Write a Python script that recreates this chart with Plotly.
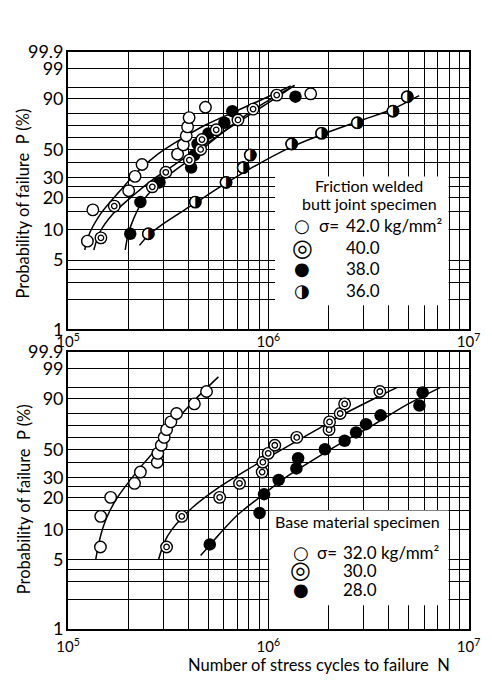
import numpy as np
import plotly.graph_objects as go

# ---------------- data ----------------
# probability-paper (Weibull) axis
p_label_vals = [1, 5, 10, 20, 30, 50, 90, 99, 99.9]
p_label_text = ["1", "5", "10", "20", "30", "50", "90", "99", "99.9"]
p_grid_only = [2, 3, 4, 15, 25, 40, 60, 70, 80, 95]
# cycles axis
n_label_vals = [1e5, 1e6, 1e7]
n_label_text = ["10<sup>5</sup>", "10<sup>6</sup>", "10<sup>7</sup>"]
n_grid_mult = [2, 3, 4, 5, 6, 7, 8, 9]

# Friction welded butt joint specimen  (N cycles, P %)
fw42_N = [1.248e5, 1.329e5, 2.007e5, 2.158e5, 2.34e5, 3.52e5, 3.76e5, 3.89e5, 3.95e5, 4.02e5, 4.85e5, 1.627e6]
fw42_P = [7.7, 15.4, 23.1, 30.8, 38.5, 46.2, 53.8, 61.5, 69.2, 76.9, 84.6, 92.3]
fw40_N = [1.458e5, 1.70e5, 2.633e5, 3.075e5, 4.03e5, 4.59e5, 4.66e5, 5.49e5, 7.05e5, 8.39e5, 1.101e6]
fw40_P = [8.3, 16.7, 25.0, 33.3, 41.7, 50.0, 58.3, 66.7, 75.0, 83.3, 91.7]
fw38_N = [2.043e5, 2.296e5, 2.858e5, 4.115e5, 4.27e5, 4.43e5, 5.02e5, 6.03e5, 6.61e5, 1.366e6]
fw38_P = [9.1, 18.2, 27.3, 36.4, 45.5, 54.5, 63.6, 72.7, 81.8, 90.9]
fw36_N = [2.515e5, 4.317e5, 6.146e5, 7.484e5, 8.124e5, 1.307e6, 1.845e6, 2.782e6, 4.19e6, 4.94e6]
fw36_P = [9.1, 18.2, 27.3, 36.4, 45.5, 54.5, 63.6, 72.7, 81.8, 90.9]

# fitted curves
fw42_fit_N = [1.211e5, 1.258e5, 1.455e5, 1.811e5, 2.215e5, 2.805e5, 3.624e5, 4.848e5, 6.73e5, 9.01e5, 1.293e6]
fw42_fit_P = [6.3, 8.5, 14.2, 22.9, 33.6, 46.3, 58.3, 70.8, 81.2, 88.7, 95.4]
fw40_fit_N = [1.344e5, 1.435e5, 1.685e5, 2.097e5, 2.706e5, 3.491e5, 4.677e5, 6.262e5, 8.375e5, 1.122e6, 1.351e6]
fw40_fit_P = [6.3, 9.3, 14.3, 20.7, 29.7, 39.5, 52.3, 67.3, 80.7, 91.1, 95.6]
fw38_fit_N = [1.928e5, 1.992e5, 2.127e5, 2.347e5, 2.706e5, 3.295e5, 4.192e5, 5.332e5, 6.857e5, 9.21e5, 1.351e6]
fw38_fit_P = [6.3, 8.9, 12.8, 18.3, 24.8, 33.0, 43.8, 58.1, 73.0, 86.1, 95.6]
fw36_fit_N = [2.272e5, 2.506e5, 3.018e5, 4.192e5, 5.82e5, 8.08e5, 1.251e6, 1.939e6, 3.001e6, 4.169e6, 5.662e6]
fw36_fit_P = [7.0, 8.7, 11.5, 17.2, 25.3, 35.5, 50.7, 63.9, 75.4, 83.2, 91.4]

# Base material specimen
bm32_N = [1.45e5, 1.455e5, 1.631e5, 2.146e5, 2.296e5, 2.787e5, 2.805e5, 2.92e5, 3.018e5, 3.102e5, 3.259e5, 3.48e5, 4.27e5, 4.912e5]
bm32_P = [6.7, 13.3, 20.0, 26.7, 33.3, 40.0, 46.7, 53.3, 60.0, 66.7, 73.3, 80.0, 86.7, 93.3]
bm30_N = [3.102e5, 3.696e5, 5.712e5, 7.178e5, 9.314e5, 9.385e5, 9.98e5, 1.077e6, 1.386e6, 2.01e6, 2.021e6, 2.284e6, 2.404e6, 3.605e6]
bm30_P = [6.7, 13.3, 20.0, 26.7, 33.3, 40.0, 46.7, 53.3, 60.0, 66.7, 73.3, 80.0, 86.7, 93.3]
bm28_N = [5.1e5, 9.04e5, 9.52e5, 1.126e6, 1.381e6, 1.408e6, 1.917e6, 2.404e6, 2.742e6, 3.075e6, 3.636e6, 5.68e6, 5.895e6]
bm28_P = [7.1, 14.3, 21.4, 28.6, 35.7, 42.9, 50.0, 57.1, 64.3, 71.4, 78.6, 85.7, 92.9]

bm32_fit_N = [1.373e5, 1.419e5, 1.499e5, 1.618e5, 1.785e5, 2.036e5, 2.373e5, 2.766e5, 3.085e5, 3.442e5, 4.331e5, 5.63e5]
bm32_fit_P = [5.0, 7.1, 10.6, 15.1, 20.6, 28.3, 38.8, 50.7, 63.0, 73.8, 89.6, 97.8]
bm30_fit_N = [2.827e5, 3.018e5, 3.295e5, 4.192e5, 5.612e5, 7.795e5, 9.698e5, 1.297e6, 1.738e6, 2.327e6, 3.349e6, 4.402e6]
bm30_fit_P = [5.0, 7.4, 9.9, 16.2, 24.4, 34.6, 42.5, 54.1, 66.6, 78.7, 89.6, 94.9]
bm28_fit_N = [4.589e5, 5.408e5, 6.987e5, 9.01e5, 1.207e6, 1.615e6, 2.327e6, 3.349e6, 4.822e6, 7.244e6]
bm28_fit_P = [5.5, 8.0, 13.6, 19.9, 29.6, 40.2, 55.5, 70.8, 85.6, 94.9]

# ---------------- helpers ----------------
W, H = 492, 682
FONT = "Lato"
GLYPH_FONT = "DejaVu Sans"


def wb(p):
    """Weibull probability-paper ordinate."""
    p = np.asarray(p, dtype=float) / 100.0
    return np.log(-np.log(1.0 - p))


fig = go.Figure()


def add_curve(N, P, xa, ya):
    fig.add_trace(go.Scatter(x=N, y=wb(P), mode="lines", xaxis=xa, yaxis=ya,
                             line=dict(color="black", width=1.5, shape="spline", smoothing=0.8),
                             showlegend=False, hoverinfo="skip"))


def add_points(N, P, kind, xa, ya):
    y = wb(P)
    base = dict(x=N, y=y, xaxis=xa, yaxis=ya, showlegend=False, hoverinfo="skip")
    ring = dict(symbol="circle", size=11.5, color="white", line=dict(color="black", width=1.4))
    if kind == "open":
        fig.add_trace(go.Scatter(mode="markers", marker=ring, **base))
    elif kind == "double":
        fig.add_trace(go.Scatter(mode="markers", marker=ring, **base))
        fig.add_trace(go.Scatter(mode="markers", marker=dict(symbol="circle", size=5.5, color="white",
                                 line=dict(color="black", width=1.3)), **base))
    elif kind == "filled":
        fig.add_trace(go.Scatter(mode="markers", marker=dict(symbol="circle", size=12.5, color="black",
                                 line=dict(color="black", width=0)), **base))
    elif kind == "half":
        fig.add_trace(go.Scatter(mode="markers", marker=ring, **base))
        fig.add_trace(go.Scatter(mode="text", text=["\u25D1"] * len(N), textposition="middle center",
                                 textfont=dict(family=GLYPH_FONT, size=16, color="black"), **base))


# top panel
add_curve(fw42_fit_N, fw42_fit_P, "x", "y")
add_curve(fw40_fit_N, fw40_fit_P, "x", "y")
add_curve(fw38_fit_N, fw38_fit_P, "x", "y")
add_curve(fw36_fit_N, fw36_fit_P, "x", "y")
add_points(fw42_N, fw42_P, "open", "x", "y")
add_points(fw38_N, fw38_P, "filled", "x", "y")
add_points(fw40_N, fw40_P, "double", "x", "y")
add_points(fw36_N, fw36_P, "half", "x", "y")

# bottom panel
add_curve(bm32_fit_N, bm32_fit_P, "x2", "y2")
add_curve(bm30_fit_N, bm30_fit_P, "x2", "y2")
add_curve(bm28_fit_N, bm28_fit_P, "x2", "y2")
add_points(bm32_N, bm32_P, "open", "x2", "y2")
add_points(bm30_N, bm30_P, "double", "x2", "y2")
add_points(bm28_N, bm28_P, "filled", "x2", "y2")

# ---------------- axes ----------------
x_minor = [m * d for d in n_label_vals[:-1] for m in n_grid_mult]
y_minor = list(wb(p_grid_only))
yr = [float(wb(1)), float(wb(99.9))]

xdom = [59 / W, 480 / W]
top_dom = [(H - 328) / H, (H - 41) / H]
bot_dom = [(H - 637.5) / H, (H - 351) / H]

grid = dict(showgrid=True, gridcolor="black", gridwidth=1.2)
common_x = dict(type="log", range=[5, 7], tickmode="array", tickvals=n_label_vals, ticktext=n_label_text,
                minor=dict(tickmode="array", tickvals=x_minor, ticks="", **grid),
                showline=True, linecolor="black", linewidth=2, mirror=True, ticks="", zeroline=False,
                tickfont=dict(family=FONT, size=15, color="black"), domain=xdom, fixedrange=True, **grid)
common_y = dict(range=yr, tickmode="array", tickvals=list(wb(p_label_vals)), ticktext=p_label_text,
                minor=dict(tickmode="array", tickvals=y_minor, ticks="", **grid),
                showline=True, linecolor="black", linewidth=2, mirror=True, ticks="", zeroline=False,
                tickfont=dict(family=FONT, size=18, color="black"), fixedrange=True, **grid)

fig.update_layout(
    width=W, height=H, margin=dict(l=0, r=0, t=0, b=0),
    paper_bgcolor="white", plot_bgcolor="white", showlegend=False,
    xaxis=dict(anchor="y", ticklabelstandoff=-2, **common_x),
    yaxis=dict(anchor="x", domain=top_dom, ticklabelstandoff=-1, **common_y),
    xaxis2=dict(anchor="y2", ticklabelstandoff=3, **common_x),
    yaxis2=dict(anchor="x2", domain=bot_dom, ticklabelstandoff=-1, **common_y),
)


# ---------------- legend boxes & texts ----------------
def px(xp):
    return xp / W


def py(yp):
    return (H - yp) / H


shapes = [
    dict(type="rect", xref="paper", yref="paper", x0=px(276.5), x1=px(459), y0=py(303), y1=py(170),
         fillcolor="white", line=dict(width=0), layer="above"),
    dict(type="rect", xref="paper", yref="paper", x0=px(270.5), x1=px(459), y0=py(613), y1=py(515),
         fillcolor="white", line=dict(width=0), layer="above"),
]
fig.update_layout(shapes=shapes)

ann = []


def text(xp, yp, s, size=16, xanchor="center", family=FONT, angle=0):
    ann.append(dict(x=px(xp), y=py(yp), xref="paper", yref="paper", text=s, showarrow=False,
                    xanchor=xanchor, yanchor="middle", textangle=angle, borderpad=0,
                    font=dict(family=family, size=size, color="black")))


# axis titles
text(12, 197.5, "Probability of failure  P (%)", size=16.5, angle=-90)
text(12, 503, "Probability of failure  P (%)", size=16.5, angle=-90)
text(323, 675, "Number of stress cycles to failure  N", size=16.5)

glyph_size = {"\u25CB": 18, "\u25CE": 24, "\u25CF": 18, "\u25D1": 18}

# top legend
text(375.5, 179, "Friction welded", 16)
text(375.5, 197.5, "butt joint specimen", 16)
rows_top = [(221, "\u25CB", "42.0 kg/mm\u00B2"), (243.5, "\u25CE", "40.0"), (265, "\u25CF", "38.0"), (287.5, "\u25D1", "36.0")]
for yv, g, lab in rows_top:
    text(305, yv, g, glyph_size[g], family=GLYPH_FONT)
    text(350, yv, lab, 17, xanchor="left")
text(322, 221, "\u03C3=", 17, xanchor="left")

# bottom legend
text(363.7, 526, "Base material specimen", 16)
rows_bot = [(559, "\u25CB", "32.0 kg/mm\u00B2"), (577, "\u25CE", "30.0"), (597, "\u25CF", "28.0")]
for yv, g, lab in rows_bot:
    text(303.3, yv, g, glyph_size[g], family=GLYPH_FONT)
    text(347, yv, lab, 17, xanchor="left")
text(320, 559, "\u03C3=", 17, xanchor="left")

fig.update_layout(annotations=ann)

fig.write_html("out.html", config={"displayModeBar": False})
